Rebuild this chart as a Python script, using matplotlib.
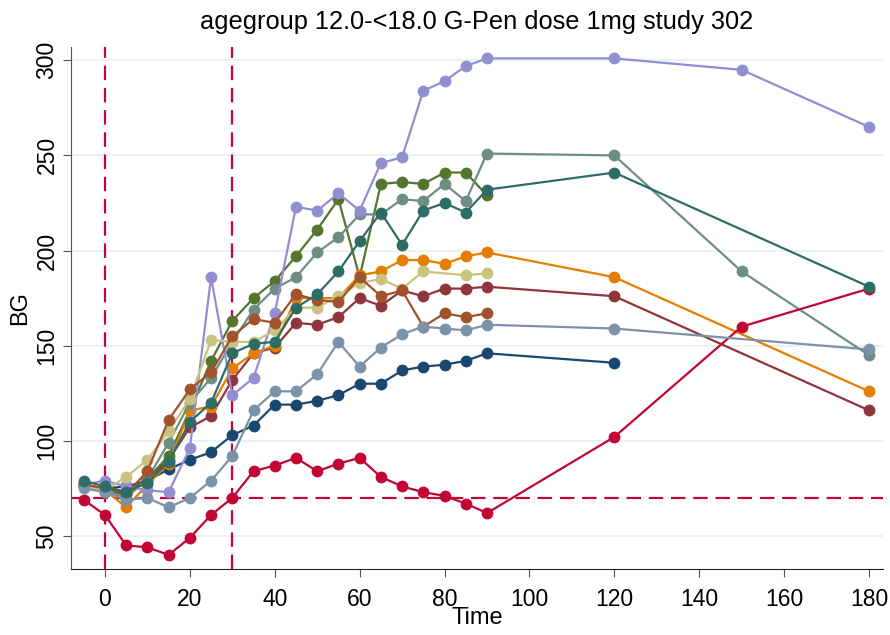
import matplotlib
matplotlib.use('Agg')
import matplotlib.pyplot as plt
import numpy as np

nan = np.nan

# time points (minutes)
Time = [-5, 0, 5, 10, 15, 20, 25, 30, 35, 40, 45, 50, 55, 60, 65, 70, 75, 80, 85, 90, 120, 150, 180]

# BG per subject
bg_navy     = [76, 75, 76, 79, 85, 90, 94, 103, 108, 119, 119, 121, 124, 130, 130, 137, 139, 140, 142, 146, 141, nan, nan]
bg_maroon   = [77, 75, 73, 80, 90, 107, 113, 132, 146, 149, 162, 161, 165, 175, 171, 179, 176, 180, 180, 181, 176, nan, 116]
bg_forest   = [78, 73, 72, 80, 92, 116, 142, 163, 175, 184, 197, 211, 227, 186, 235, 236, 235, 241, 241, 229, nan, nan, nan]
bg_orange   = [76, 74, 65, 77, 88, 116, 118, 138, 146, 150, 175, 175, 175, 187, 189, 195, 195, 193, 197, 199, 186, nan, 126]
bg_teal     = [77, 74, 70, 80, 99, 120, 133, 152, 169, 180, 186, 199, 207, 219, 219, 227, 226, 235, 226, 251, 250, 189, 145]
bg_cranb    = [69, 61, 45, 44, 40, 49, 61, 70, 84, 87, 91, 84, 88, 91, 81, 76, 73, 71, 67, 62, 102, 160, 180]
bg_lavender = [77, 79, 76, 74, 73, 96, 186, 124, 133, 167, 223, 221, 230, 221, 246, 249, 284, 289, 297, 301, 301, 295, 265]
bg_khaki    = [76, 74, 81, 90, 105, 122, 153, 152, 152, 158, 170, 170, 176, 183, 185, 180, 189, nan, 187, 188, nan, nan, nan]
bg_sienna   = [77, 75, 72, 84, 111, 127, 136, 155, 164, 162, 177, 174, 173, 186, 176, 179, 160, 167, 165, 167, nan, nan, nan]
bg_emidblue = [75, 73, 69, 70, 65, 70, 79, 92, 116, 126, 126, 135, 152, 139, 149, 156, 160, 159, 158, 161, 159, nan, 148]
bg_emerald  = [79, 76, 73, 78, 89, 110, 120, 146, 151, 152, 170, 177, 189, 205, 220, 203, 221, 225, 220, 232, 241, nan, 181]

series = [bg_navy, bg_maroon, bg_forest, bg_orange, bg_teal, bg_cranb,
          bg_lavender, bg_khaki, bg_sienna, bg_emidblue, bg_emerald]
# stata s2color
colors = ['#1a476f', '#90353b', '#55752f', '#e37e00', '#6e8e84', '#c10534',
          '#938dd2', '#cac27e', '#a0522d', '#7b92a8', '#2d6d66']

plt.rcParams['font.family'] = ['Liberation Sans', 'DejaVu Sans']

fig = plt.figure(figsize=(8.9, 6.35), dpi=100)
ax = fig.add_axes([71/890., 1-569/635., (883-71)/890., (569-47)/635.])

ax.set_xlim(-8.0, 183.3)
ax.set_ylim(32.6, 307.0)

ax.set_yticks([50, 100, 150, 200, 250, 300])
ax.set_xticks(range(0, 181, 20))
ax.yaxis.grid(True, color='#eaf2f3', linewidth=1.5)
ax.set_axisbelow(True)

t = np.array(Time, dtype=float)
for s, c in zip(series, colors):
    y = np.array(s, dtype=float)
    ok = ~np.isnan(y)
    ax.plot(t[ok], y[ok], color=c, linewidth=1.6, marker='o', markersize=8.5,
            markeredgewidth=0, zorder=3)

ax.axvline(0, color='#c10534', linestyle=(0, (6.5, 3.5)), linewidth=1.6, zorder=2)
ax.axvline(30, color='#c10534', linestyle=(0, (6.5, 3.5)), linewidth=1.6, zorder=2)
ax.axhline(70, color='#c10534', linestyle=(0, (6.5, 3.5)), linewidth=1.6, zorder=2)

for sp in ['top', 'right']:
    ax.spines[sp].set_visible(False)
ax.spines['left'].set_color('#555555')
ax.spines['bottom'].set_color('#222222')
ax.tick_params(axis='both', labelsize=16.5, length=6, color='#555555')
ax.tick_params(axis='y', pad=3)
ax.tick_params(axis='x', pad=8)
plt.setp(ax.get_yticklabels(), rotation=90, va='center')

ax.set_xlabel('Time', fontsize=17, labelpad=-3)
ax.set_ylabel('BG', fontsize=17, labelpad=3)
ax.set_title('agegroup 12.0-<18.0 G-Pen dose 1mg study 302', fontsize=18.3, pad=13)

plt.savefig('out.png', dpi=100)
